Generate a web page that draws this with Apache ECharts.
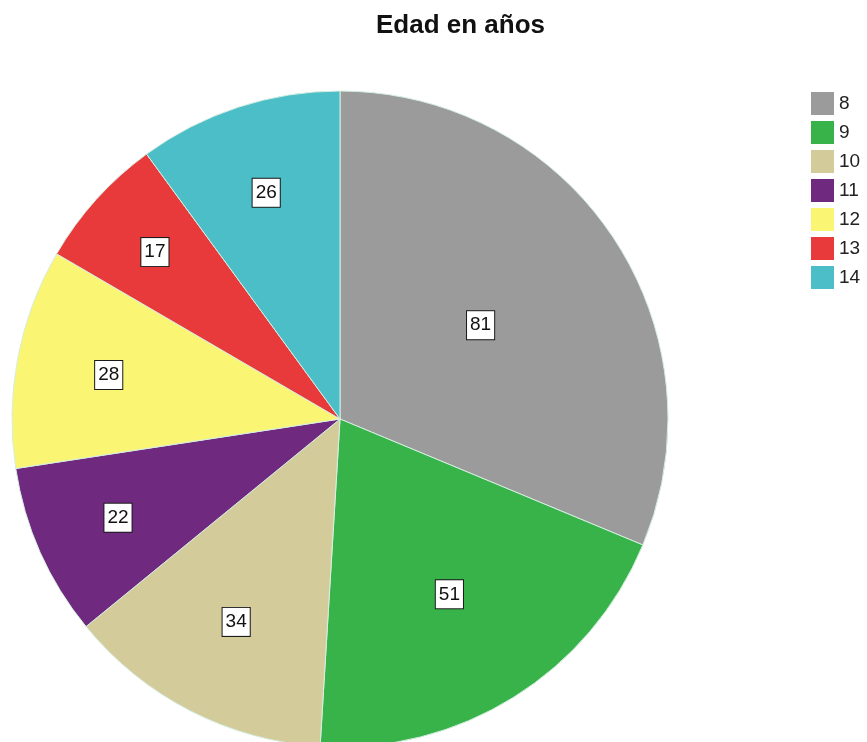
<!DOCTYPE html>
<html>
<head>
<meta charset="utf-8">
<script src="https://cdn.jsdelivr.net/npm/echarts@6/dist/echarts.min.js"></script>
<style>
  html, body { margin: 0; padding: 0; background: #ffffff; }
  #chart { width: 867px; height: 742px; }
</style>
</head>
<body>
<div id="chart"></div>
<script>
// Ages (years) and number of people in each age group
const ages = ['8', '9', '10', '11', '12', '13', '14'];
const counts = [81, 51, 34, 22, 28, 17, 26];
const sliceColors = ['#9b9b9b', '#37b34a', '#d3cc9a', '#6f2a7f', '#fbf574', '#e93a3b', '#4bbec7'];

const total = counts.reduce((a, b) => a + b, 0);
const pieCenter = [340, 419];

const chart = echarts.init(document.getElementById('chart'), null, { renderer: 'canvas' });

chart.setOption({
  backgroundColor: '#ffffff',
  animation: false,
  title: {
    text: 'Edad en años',
    left: 371,
    top: 8,
    textStyle: { fontFamily: 'Liberation Sans, Arial, sans-serif', fontSize: 26, fontWeight: 'bold', color: '#111111' }
  },
  legend: {
    orient: 'vertical',
    left: 811,
    top: 92,
    padding: 0,
    itemWidth: 23,
    itemHeight: 23,
    itemGap: 6,
    icon: 'rect',
    selectedMode: false,
    itemStyle: { borderWidth: 0 },
    data: ages,
    textStyle: { fontFamily: 'Liberation Sans, Arial, sans-serif', fontSize: 19, color: '#222222' }
  },
  series: [{
    type: 'pie',
    center: pieCenter,
    radius: 328,
    startAngle: 90,
    clockwise: true,
    silent: true,
    color: sliceColors,
    itemStyle: { borderColor: '#d6eee2', borderWidth: 1 },
    label: {
      show: true,
      position: 'inside',
      formatter: '{c}',
      fontFamily: 'Liberation Sans, Arial, sans-serif',
      fontSize: 19,
      color: '#111111',
      backgroundColor: '#ffffff',
      borderColor: '#1a1a1a',
      borderWidth: 1,
      padding: [5, 3, 4, 3]
    },
    // wide slices keep their label nearer the middle, narrow ones push it outward
    labelLayout: function (p) {
      const halfDeg = 180 * counts[p.dataIndex] / total;
      const frac = 0.81 - 0.0054 * halfDeg;
      const k = frac / 0.5;
      const lx = p.labelRect.x + p.labelRect.width / 2;
      const ly = p.labelRect.y + p.labelRect.height / 2;
      return { dx: (lx - pieCenter[0]) * (k - 1), dy: (ly - pieCenter[1]) * (k - 1) };
    },
    data: ages.map((a, i) => ({ name: a, value: counts[i] }))
  }]
});
</script>
</body>
</html>
